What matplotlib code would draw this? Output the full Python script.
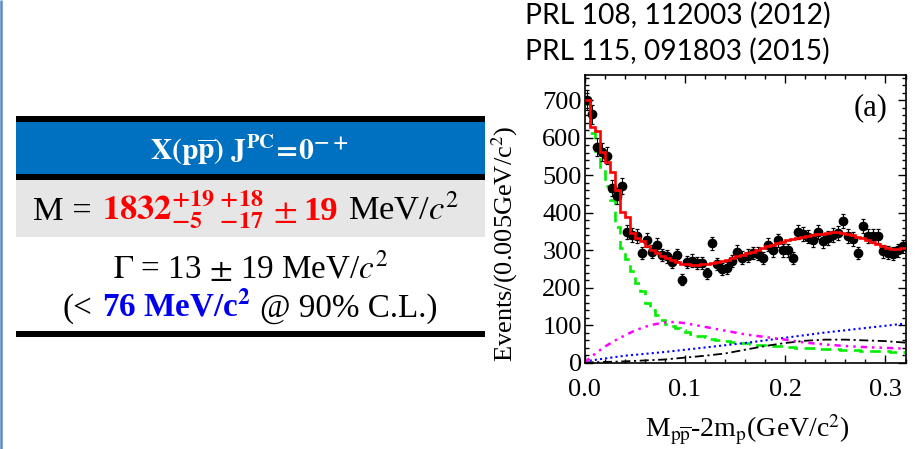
import numpy as np
import matplotlib
matplotlib.use("Agg")
import matplotlib.pyplot as plt
from matplotlib.patches import Rectangle
from matplotlib.ticker import MultipleLocator, FormatStrFormatter

# ---------------- data ----------------
bin_width = 0.005
counts = [700, 662, 575, 562, 552, 465, 445, 470, 347, 340,
          338, 292, 327, 296, 314, 287, 283, 269, 287, 221,
          269, 272, 266, 266, 238, 318, 262, 250, 253, 270,
          296, 280, 285, 292, 290, 279, 314, 300, 326, 300,
          300, 279, 347, 343, 336, 326, 347, 323, 332, 341,
          346, 378, 338, 330, 292, 365, 338, 338, 338, 297,
          293, 290, 300, 310]
fit_total = [700, 628, 618, 562, 535, 509, 460, 402, 388, 346,
             332, 323, 310, 300, 292, 285, 279, 274, 268, 264,
             262, 261, 261, 262, 264, 266, 268, 271, 274, 278,
             283, 287, 292, 296, 300, 305, 310, 314, 318, 322,
             326, 329, 332, 335, 338, 340, 342, 344, 346, 347,
             347, 346, 343, 340, 336, 332, 327, 322, 316, 310,
             306, 303, 303, 305]
green_comp = [690, 612, 565, 522, 470, 434, 362, 305, 275, 245,
              212, 190, 160, 140, 128, 114, 104, 97, 92, 86,
              81, 75, 72, 70, 67, 64, 61, 59, 57, 55,
              54, 52, 51, 50, 48, 47, 46, 45, 44, 43,
              42, 41, 40, 40, 39, 38, 38, 37, 36, 35,
              35, 34, 34, 33, 33, 32, 32, 31, 31, 30,
              30, 29, 29, 28]
magenta_x = [0.0, 0.01, 0.02, 0.03, 0.04, 0.05, 0.06, 0.07, 0.08, 0.09, 0.10,
             0.12, 0.14, 0.16, 0.18, 0.20, 0.22, 0.24, 0.26, 0.28, 0.30, 0.32]
magenta_y = [0, 22, 42, 58, 72, 85, 95, 102, 107, 108, 105,
             95, 85, 75, 68, 61, 53, 48, 44, 41, 39, 37]
blue_x = [0.0, 0.04, 0.08, 0.12, 0.16, 0.20, 0.24, 0.28, 0.32]
blue_y = [3, 18, 28, 40, 52, 66, 80, 92, 104]
black_x = [0.0, 0.04, 0.08, 0.10, 0.12, 0.14, 0.16, 0.18, 0.20, 0.22,
           0.24, 0.26, 0.28, 0.30, 0.32]
black_y = [0, 3, 8, 13, 18, 24, 34, 44, 52, 58, 61, 61, 59, 57, 53]

refs = ["PRL 108, 112003 (2012)", "PRL 115, 091803 (2015)"]
x_ticks = [0.0, 0.1, 0.2, 0.3]
y_ticks = [0, 100, 200, 300, 400, 500, 600, 700]

# ---------------- figure ----------------
W, H = 917, 449
plt.rcParams["font.family"] = ["Liberation Serif", "DejaVu Serif"]
plt.rcParams["mathtext.fontset"] = "stix"
fig = plt.figure(figsize=(W / 100, H / 100), dpi=100)
fig.patch.set_facecolor("white")

bg = fig.add_axes([0, 0, 1, 1])
bg.set_xlim(0, W)
bg.set_ylim(H, 0)
bg.axis("off")

# left slide border
bg.plot([1.2, 1.2], [0, H], color="#5A8AC6", lw=1.8, solid_capstyle="butt")

# table bands
TX0, TX1 = 16, 485
bg.add_patch(Rectangle((TX0, 116), TX1 - TX0, 6, color="black", lw=0))
bg.add_patch(Rectangle((TX0, 121.7), TX1 - TX0, 52.5, color="#0070C0", lw=0))
bg.add_patch(Rectangle((TX0, 174), TX1 - TX0, 6, color="black", lw=0))
bg.add_patch(Rectangle((TX0, 180), TX1 - TX0, 57.3, color="#E7E6E6", lw=0))
bg.add_patch(Rectangle((TX0, 331), TX1 - TX0, 5.7, color="black", lw=0))

renderer = fig.canvas.get_renderer()


def row(pieces, xc, yb, fs0, target_w):
    """pieces: list of (string, kwargs, gap_in_em)"""
    def build(fs):
        arts = []
        for s, kw, gap in pieces:
            t = bg.text(0, yb, s, fontsize=fs, va="baseline", ha="left",
                        math_fontfamily="stix", **kw)
            arts.append((t, gap * fs * 100 / 72))
        return arts

    def measure(arts):
        ws = [t.get_window_extent(renderer).width for t, _ in arts]
        return ws, sum(ws) + sum(g for _, g in arts[:-1])

    arts = build(fs0)
    ws, tot = measure(arts)
    fs = fs0 * target_w / tot
    for t, _ in arts:
        t.remove()
    arts = build(fs)
    ws, tot = measure(arts)
    x = xc - tot / 2
    for (t, g), w in zip(arts, ws):
        t.set_x(x)
        x += w + g


serif = dict(family="Liberation Serif")
row([(r"$\mathbf{X(p\overline{p})\ J^{PC}\!=\!0^{-+}}$", dict(color="white", **serif), 0)],
    249, 160, 22, 198)
row([("M =", dict(color="black", **serif), 0.3),
     (r"$\mathbf{1832}^{\mathbf{+19}}_{\mathbf{-5}}\,{}^{\mathbf{+18}}_{\mathbf{-17}}$",
      dict(color="#FF0000", **serif), 0.25),
     (r"$\pm$", dict(color="#FF0000", **serif), 0.2),
     ("19", dict(color="#FF0000", weight="bold", **serif), 0.3),
     (r"MeV/$c^2$", dict(color="black", **serif), 0)],
    246.5, 220, 22, 427)
row([(r"$\Gamma$ = 13 $\pm$ 19 MeV/$c^2$", dict(color="black", **serif), 0)],
    250.5, 278.3, 22, 275)
row([("(<", dict(color="black", **serif), 0.28),
     (r"76 MeV/c$^{\mathbf{2}}$", dict(color="#0000EE", weight="bold", **serif), 0.28),
     ("@ 90% C.L.)", dict(color="black", **serif), 0)],
    250, 316.7, 22, 374)

# references (sans)
for txt, yb in zip(refs, [23.3, 59.3]):
    t = bg.text(525, yb, txt, fontsize=18, family="Lato", va="baseline", ha="left", color="black")
    w = t.get_window_extent(renderer).width
    t.set_fontsize(18 * 305 / w)

# ---------------- physics plot ----------------
AX_L, AX_R, AX_T, AX_B = 584.5, 905.5, 75, 362.5
ax = fig.add_axes([AX_L / W, (H - AX_B) / H, (AX_R - AX_L) / W, (AX_B - AX_T) / H])
ax.set_facecolor("none")
ax.set_xlim(0, 0.32)
ax.set_ylim(0, 767)

edges = np.arange(len(counts) + 1) * bin_width
centers = edges[:-1] + bin_width / 2

ax.plot(black_x, black_y, color="black", lw=1.3, linestyle=(0, (5, 2, 1.2, 2)))
ax.plot(blue_x, blue_y, color="#0000FF", lw=1.5, linestyle=(0, (1, 1.5)))
ax.plot(magenta_x, magenta_y, color="#FF00FF", lw=1.8,
        linestyle=(0, (2.5, 2, 1, 2, 1, 2)))
ax.stairs(green_comp, edges, baseline=None, color="#00EE00", lw=1.9,
          linestyle=(0, (4, 2.5)))
ax.errorbar(centers, counts, yerr=np.sqrt(counts), fmt="o", ms=6,
            color="black", ecolor="black", elinewidth=0.7, capsize=1.2,
            capthick=0.9, zorder=3)
ax.stairs(fit_total, edges, baseline=None, color="#FF0000", lw=1.9, zorder=4)

ax.xaxis.set_major_locator(MultipleLocator(0.1))
ax.xaxis.set_minor_locator(MultipleLocator(0.02))
ax.yaxis.set_major_locator(MultipleLocator(100))
ax.yaxis.set_minor_locator(MultipleLocator(20))
ax.set_xticks(x_ticks)
ax.set_yticks(y_ticks)
ax.xaxis.set_major_formatter(FormatStrFormatter("%.1f"))
ax.tick_params(which="both", direction="in", top=True, right=True, width=1.0)
ax.tick_params(which="major", length=5.5)
ax.tick_params(which="minor", length=3)
ax.tick_params(axis="x", labelsize=19, pad=12)
ax.tick_params(axis="y", labelsize=19, pad=2)
for s in ax.spines.values():
    s.set_linewidth(1.2)

ax.text(871, 108, "(a)", fontsize=22, ha="center", va="center", transform=bg.transData)
bg.text(505, 243.5, r"Events/(0.005GeV/c$^{2}$)", fontsize=19, rotation=90,
        ha="center", va="center")
bg.text(747, 430, r"M$_{\mathrm{p\overline{p}}}$-2m$_{\mathrm{p}}$(GeV/c$^{2}$)",
        fontsize=20, ha="center", va="center")

fig.savefig("out.png", dpi=100)
